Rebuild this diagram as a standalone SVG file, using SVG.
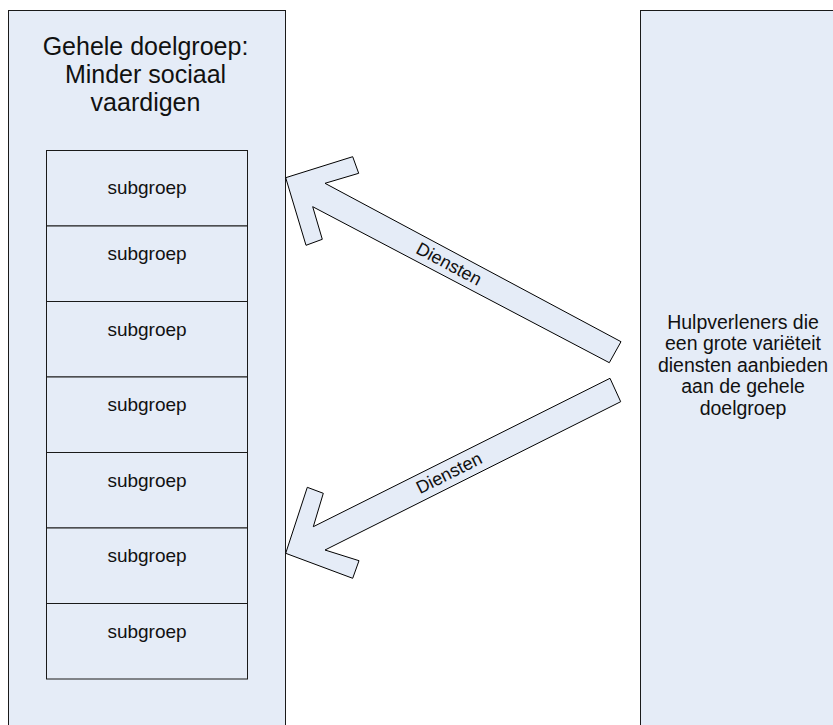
<svg xmlns="http://www.w3.org/2000/svg" width="833" height="725" viewBox="0 0 833 725">
  <style>
    .panel { fill: #e5ecf7; stroke: #1a1a1a; stroke-width: 1; }
    .sub { fill: #e5ecf7; stroke: #1a1a1a; stroke-width: 1; }
    .arrow { fill: #e5ecf7; stroke: #000; stroke-width: 1; stroke-linejoin: miter; }
    text { font-family: "Liberation Sans", Arial, sans-serif; fill: #111; text-anchor: middle; }
    .title { font-size: 25px; }
    .label { font-size: 19px; }
    .arrow-label { font-size: 18px; }
    .side { font-size: 19.5px; }
  </style>
  <rect width="833" height="725" fill="#ffffff"/>

  <g id="doelgroep">
    <rect class="panel" x="8.5" y="10.5" width="277" height="730"/>
    <text class="title" x="145.5" y="55">Gehele doelgroep:</text>
    <text class="title" x="145.5" y="83">Minder sociaal</text>
    <text class="title" x="145.5" y="111">vaardigen</text>
  </g>

  <g id="subgroep-1"><rect class="sub" x="46.5" y="150.5" width="201" height="75.5"/><text class="label" x="147" y="194">subgroep</text></g>
  <g id="subgroep-2"><rect class="sub" x="46.5" y="226" width="201" height="75.5"/><text class="label" x="147" y="260">subgroep</text></g>
  <g id="subgroep-3"><rect class="sub" x="46.5" y="301.5" width="201" height="75.5"/><text class="label" x="147" y="335.5">subgroep</text></g>
  <g id="subgroep-4"><rect class="sub" x="46.5" y="377" width="201" height="75.5"/><text class="label" x="147" y="411">subgroep</text></g>
  <g id="subgroep-5"><rect class="sub" x="46.5" y="452.5" width="201" height="75.5"/><text class="label" x="147" y="486.5">subgroep</text></g>
  <g id="subgroep-6"><rect class="sub" x="46.5" y="528" width="201" height="75.5"/><text class="label" x="147" y="562">subgroep</text></g>
  <g id="subgroep-7"><rect class="sub" x="46.5" y="603.5" width="201" height="75.5"/><text class="label" x="147" y="638">subgroep</text></g>

  <g id="hulpverleners">
    <rect class="panel" x="640.5" y="10.5" width="200" height="730"/>
    <text class="side" x="743" y="328.5">Hulpverleners die</text>
    <text class="side" x="743" y="350">een grote variëteit</text>
    <text class="side" x="743" y="371.5">diensten aanbieden</text>
    <text class="side" x="743" y="393">aan de gehele</text>
    <text class="side" x="743" y="414.5">doelgroep</text>
  </g>

  <g id="connectors">
    <polygon class="arrow" points="285.7,177.7 352.7,156.7 358.7,173.3 325,183.3 621,341.7 609.3,362.7 312.7,206.7 322.3,239.3 306,245.3"/>
    <text class="arrow-label" transform="translate(449,264) rotate(28.2)" y="6">Diensten</text>
    <polygon class="arrow" points="285.7,553.3 352.7,578.3 359,560.7 325,550 620.7,401.7 610,378.3 313.3,526.7 323.3,493.3 307.3,487.3"/>
    <text class="arrow-label" transform="translate(449,473) rotate(-26.6)" y="6">Diensten</text>
  </g>
</svg>
